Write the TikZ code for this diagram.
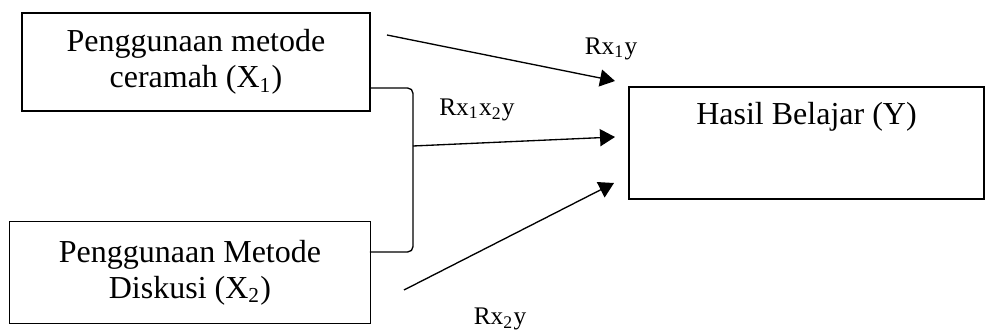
\documentclass[tikz,border=0pt]{standalone}
\usepackage{fontspec}
\setmainfont{Liberation Serif}
\usetikzlibrary{arrows.meta}
\begin{document}
\begin{tikzpicture}[x=0.375pt,y=-0.375pt,>={Triangle[length=5.6pt,width=6.4pt]},
    box/.style={draw,line width=0.5pt,inner sep=0pt,align=center,font=\fontsize{12pt}{13.5pt}\selectfont},
    rlabel/.style={inner sep=0pt,font=\fontsize{9.5pt}{11pt}\selectfont}]
    \useasboundingbox (0,0) rectangle (985,331);
    % variables
    \node[box,minimum width=130.6pt,minimum height=36.8pt] (X1) at (196,62) {Penggunaan metode\\ceramah (X\textsubscript{1})};
    \node[box,minimum width=135.3pt,minimum height=38.1pt] (X2) at (190,272.5) {Penggunaan Metode\\Diskusi (X\textsubscript{2})};
    \node[box,minimum width=133.1pt,text height=14.25pt,text depth=27.75pt] (Y) at (806.5,143) {Hasil Belajar (Y)};
    % end points
    \coordinate (x1s) at (387,35);
    \coordinate (x1e) at (615,81);
    \coordinate (b1) at (370,88);
    \coordinate (b2) at (370,252);
    \coordinate (jn) at (413,146);
    \coordinate (jne) at (615,137);
    \coordinate (x2s) at (404,290);
    \coordinate (x2e) at (614,183);
    % arrows
    \draw[line width=0.5pt,rounded corners=2pt] (b1) -| (jn) |- (b2);
    \draw[->,line width=0.5pt] (x1s) -- (x1e);
    \draw[->,line width=0.5pt] (jn) -- (jne);
    \draw[->,line width=0.5pt] (x2s) -- (x2e);
    % labels
    \node[rlabel] (r1) at (611,49) {Rx\textsubscript{1}y};
    \node[rlabel] (r12) at (477,110) {Rx\textsubscript{1}x\textsubscript{2}y};
    \node[rlabel] (r2) at (500,319) {Rx\textsubscript{2}y};
  \end{tikzpicture}
\end{document}
